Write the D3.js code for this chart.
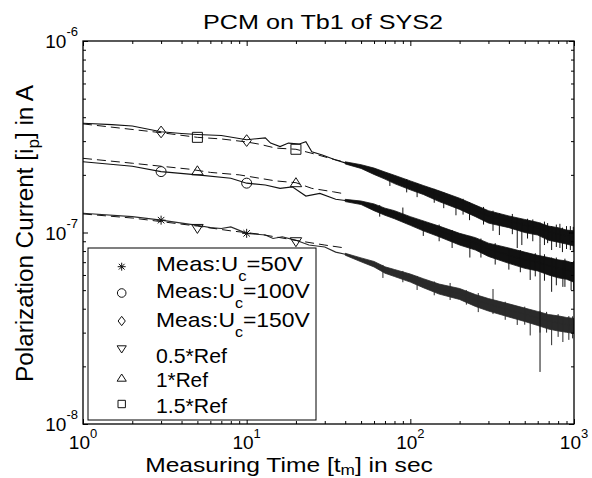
<!DOCTYPE html>
<html lang="en">
<head>
<meta charset="utf-8">
<title>PCM on Tb1 of SYS2</title>
<script src="https://d3js.org/d3.v7.min.js"></script>
<style>
  body { margin: 0; background: #fff; }
  text { font-family: "Liberation Sans", Arial, Helvetica, sans-serif; fill: #000; }
</style>
</head>
<body>
<div id="chart"></div>
<script>
// currents are written in units of 1e-7 A, times in sec
var UNIT = 1e-7;

// measured curves, quiet start
var t50  = [1, 2, 3, 5, 6, 7, 8, 10, 13, 14.5, 16.5, 20, 24, 30, 35];
var i50  = [1.26, 1.21, 1.16, 1.09, 1.06, 1.05, 1.07, 0.99, 0.97, 0.93, 0.95, 0.91, 0.86, 0.84, 0.79];
var t100 = [1, 2, 3, 5, 8, 10, 13, 16, 19, 23, 28, 35];
var i100 = [2.34, 2.22, 2.08, 2.00, 1.92, 1.81, 1.77, 1.70, 1.73, 1.55, 1.60, 1.49];
var t150 = [1, 1.5, 2, 3, 4, 5, 7, 10, 13, 14, 16, 18, 21, 23, 25, 29, 35];
var i150 = [3.72, 3.66, 3.60, 3.36, 3.29, 3.25, 3.21, 3.05, 3.12, 2.93, 2.81, 2.93, 2.90, 2.98, 2.64, 2.54, 2.39];

// noisy tail: centre and band edges on a shared time grid
var tTail  = [40, 50, 60, 70, 80, 100, 120, 150, 200, 250, 300, 400, 500, 600, 700, 800, 900, 1000];
var mid50  = [0.77, 0.72, 0.685, 0.64, 0.62, 0.58, 0.547, 0.51, 0.48, 0.444, 0.423, 0.394, 0.375, 0.358, 0.345, 0.337, 0.331, 0.327];
var hi50   = [0.779, 0.737, 0.706, 0.662, 0.641, 0.607, 0.574, 0.538, 0.510, 0.474, 0.452, 0.424, 0.403, 0.387, 0.373, 0.367, 0.360, 0.356];
var lo50   = [0.761, 0.703, 0.661, 0.613, 0.589, 0.551, 0.515, 0.477, 0.447, 0.411, 0.389, 0.362, 0.343, 0.327, 0.313, 0.306, 0.301, 0.297];
var mid100 = [1.47, 1.43, 1.36, 1.29, 1.25, 1.16, 1.09, 1.02, 0.93, 0.88, 0.82, 0.76, 0.72, 0.70, 0.67, 0.65, 0.64, 0.62];
var hi100  = [1.49, 1.46, 1.41, 1.34, 1.30, 1.21, 1.15, 1.08, 0.99, 0.94, 0.88, 0.83, 0.79, 0.76, 0.74, 0.72, 0.71, 0.69];
var lo100  = [1.45, 1.40, 1.30, 1.23, 1.18, 1.09, 1.02, 0.95, 0.86, 0.81, 0.75, 0.69, 0.65, 0.63, 0.60, 0.58, 0.57, 0.55];
var mid150 = [2.31, 2.21, 2.09, 2.00, 1.90, 1.77, 1.68, 1.56, 1.43, 1.31, 1.22, 1.15, 1.09, 1.06, 1.01, 0.98, 0.96, 0.94];
var hi150  = [2.34, 2.26, 2.17, 2.07, 1.99, 1.86, 1.76, 1.65, 1.51, 1.39, 1.30, 1.22, 1.17, 1.13, 1.08, 1.06, 1.03, 1.02];
var lo150  = [2.28, 2.16, 2.01, 1.90, 1.80, 1.67, 1.58, 1.45, 1.32, 1.21, 1.12, 1.06, 1.00, 0.97, 0.91, 0.89, 0.87, 0.85];

// spikes out of the band: [t, from, to]
var spikes50  = [[68, 0.677, 0.579], [90, 0.63, 0.55], [110, 0.593, 0.501], [140, 0.555, 0.47], [175, 0.545, 0.444],
                 [220, 0.50, 0.42], [260, 0.483, 0.384], [320, 0.507, 0.375], [380, 0.435, 0.35], [450, 0.413, 0.329],
                 [500, 0.41, 0.33], [540, 0.384, 0.29], [620, 0.39, 0.30], [680, 0.385, 0.30], [730, 0.371, 0.258],
                 [800, 0.375, 0.285], [855, 0.358, 0.268], [930, 0.366, 0.275], [980, 0.365, 0.28]];
var spikes100 = [[65, 1.39, 1.21], [90, 1.35, 1.15], [120, 1.15, 0.96], [150, 1.10, 0.90], [180, 1.03, 0.83],
                 [231, 0.96, 0.74], [270, 0.93, 0.74], [330, 0.88, 0.68], [400, 0.83, 0.64], [470, 0.81, 0.62],
                 [540, 0.77, 0.565], [580, 0.78, 0.59], [620, 0.88, 0.187], [660, 0.77, 0.56], [730, 0.74, 0.49],
                 [780, 0.74, 0.53], [855, 0.70, 0.52], [880, 0.73, 0.52], [960, 0.70, 0.50], [995, 0.71, 0.50]];
var spikes150 = [[75, 2.02, 1.75], [95, 1.90, 1.62], [110, 1.81, 1.53], [140, 1.69, 1.43], [160, 1.62, 1.34],
                 [190, 1.44, 1.23], [210, 1.50, 1.24], [230, 1.44, 1.16], [280, 1.36, 1.10], [320, 1.30, 1.02],
                 [350, 1.26, 0.97], [420, 1.25, 0.98], [450, 1.19, 0.83], [480, 1.13, 0.86], [520, 1.18, 0.93],
                 [560, 1.17, 0.90], [620, 1.13, 0.88], [660, 1.14, 0.86], [690, 1.12, 0.88], [730, 1.08, 0.81],
                 [780, 1.10, 0.84], [820, 1.11, 0.83], [850, 1.06, 0.79], [900, 1.08, 0.82], [950, 1.08, 0.81], [990, 1.07, 0.80]];

// reference curves (dashed)
var tRef05 = [1, 2, 3, 5, 8, 12, 20, 30, 40];
var iRef05 = [1.25, 1.19, 1.14, 1.08, 1.02, 0.98, 0.91, 0.86, 0.83];
var tRef10 = [1, 2, 4.5, 6, 9, 12, 15, 20, 25, 34, 40];
var iRef10 = [2.44, 2.30, 2.14, 2.06, 2.00, 1.92, 1.86, 1.82, 1.70, 1.63, 1.59];
var tRef15 = [1, 3, 5, 7, 10, 12, 15, 20, 26, 34, 40];
var iRef15 = [3.69, 3.32, 3.14, 3.08, 2.97, 2.89, 2.76, 2.72, 2.57, 2.41, 2.33];

// marker positions
var tMeasMark = [3, 10];
var mark50  = [1.16, 0.99];
var mark100 = [2.08, 1.81];
var mark150 = [3.35, 3.02];
var tRefMark = [5, 20];
var markRef05 = [1.05, 0.895];
var markRef10 = [2.10, 1.82];
var markRef15 = [3.14, 2.72];

var legendLabels = ["Meas:U_c=50V", "Meas:U_c=100V", "Meas:U_c=150V", "0.5*Ref", "1*Ref", "1.5*Ref"];
var xTickExp = ["0", "1", "2", "3"];
var yTickExp = ["-8", "-7", "-6"];

// ---------------------------------------------------------------
var margin = {top: 41, right: 18, bottom: 54, left: 83},
    width = 592 - margin.left - margin.right,
    height = 478 - margin.top - margin.bottom;

var svg = d3.select("#chart").append("svg")
    .attr("width", 592)
    .attr("height", 478);

var g = svg.append("g")
    .attr("transform", "translate(" + margin.left + "," + margin.top + ")");

var x = d3.scaleLog().domain([1, 1000]).range([0, width]);
var y = d3.scaleLog().domain([1e-8, 1e-6]).range([height, 0]);

svg.append("defs").append("clipPath").attr("id", "clip")
  .append("rect").attr("width", width).attr("height", height);
var plot = g.append("g").attr("clip-path", "url(#clip)");

function zip(ts, vs) { return ts.map(function(t, k) { return [t, vs[k]]; }); }

var line = d3.line().x(function(d) { return x(d[0]); }).y(function(d) { return y(d[1] * UNIT); });
var band = d3.area()
    .x(function(d) { return x(d[0]); })
    .y0(function(d) { return y(d[1] * UNIT); })
    .y1(function(d) { return y(d[2] * UNIT); });

function markerPath(type, r) {
  switch (type) {
    case "star":
      var q = r * 0.72;
      return "M" + (-r) + ",0H" + r + "M0," + (-r) + "V" + r +
             "M" + (-q) + "," + (-q) + "L" + q + "," + q + "M" + (-q) + "," + q + "L" + q + "," + (-q);
    case "circle":
      return "M" + r + ",0A" + r + "," + r + " 0 1,1 " + (-r) + ",0A" + r + "," + r + " 0 1,1 " + r + ",0Z";
    case "diamond":
      return "M0," + (-r * 1.3) + "L" + r + ",0L0," + (r * 1.3) + "L" + (-r) + ",0Z";
    case "down":
      return "M0," + r + "L" + (r * 1.15) + "," + (-r * 0.8) + "L" + (-r * 1.15) + "," + (-r * 0.8) + "Z";
    case "up":
      return "M0," + (-r) + "L" + (r * 1.15) + "," + (r * 0.8) + "L" + (-r * 1.15) + "," + (r * 0.8) + "Z";
    case "square":
      return "M" + (-r) + "," + (-r) + "H" + r + "V" + r + "H" + (-r) + "Z";
  }
}

var measured = [
  {t: t50,  i: i50,  mid: mid50,  hi: hi50,  lo: lo50,  spikes: spikes50,  color: "#2a2a2a", mark: "star",    mv: mark50},
  {t: t100, i: i100, mid: mid100, hi: hi100, lo: lo100, spikes: spikes100, color: "#111", mark: "circle",  mv: mark100},
  {t: t150, i: i150, mid: mid150, hi: hi150, lo: lo150, spikes: spikes150, color: "#111", mark: "diamond", mv: mark150}
];
var refs = [
  {t: tRef05, i: iRef05, mark: "down",   mv: markRef05},
  {t: tRef10, i: iRef10, mark: "up",     mv: markRef10},
  {t: tRef15, i: iRef15, mark: "square", mv: markRef15}
];

// noisy bands
measured.forEach(function(s) {
  plot.append("path")
    .datum(s.mid.map(function(m, k) { return [tTail[k], s.lo[k], s.hi[k]]; }))
    .attr("d", band)
    .attr("fill", s.color)
    .attr("stroke", s.color)
    .attr("stroke-width", 0.8);
});

// measured lines and spikes
measured.forEach(function(s) {
  plot.append("path")
    .datum(zip(s.t, s.i).concat(zip(tTail, s.mid)))
    .attr("d", line)
    .attr("fill", "none")
    .attr("stroke", s.color)
    .attr("stroke-width", 1.1);

  plot.selectAll(null)
    .data(s.spikes)
    .enter().append("line")
      .attr("x1", function(d) { return x(d[0]); })
      .attr("x2", function(d) { return x(d[0]); })
      .attr("y1", function(d) { return y(d[1] * UNIT); })
      .attr("y2", function(d) { return y(d[2] * UNIT); })
      .attr("stroke", s.color)
      .attr("stroke-width", 1);
});

// reference lines
refs.forEach(function(s) {
  plot.append("path")
    .datum(zip(s.t, s.i))
    .attr("d", line)
    .attr("fill", "none")
    .attr("stroke", "#111")
    .attr("stroke-width", 1)
    .attr("stroke-dasharray", "9,5");
});

// markers
var markSize = {star: 4.5, circle: 5, diamond: 4.5, down: 5, up: 5, square: 5};
measured.forEach(function(s) {
  plot.selectAll(null).data(zip(tMeasMark, s.mv)).enter().append("path")
    .attr("transform", function(d) { return "translate(" + x(d[0]) + "," + y(d[1] * UNIT) + ")"; })
    .attr("d", markerPath(s.mark, markSize[s.mark]))
    .attr("fill", "none").attr("stroke", "#111").attr("stroke-width", 1);
});
refs.forEach(function(s) {
  plot.selectAll(null).data(zip(tRefMark, s.mv)).enter().append("path")
    .attr("transform", function(d) { return "translate(" + x(d[0]) + "," + y(d[1] * UNIT) + ")"; })
    .attr("d", markerPath(s.mark, markSize[s.mark]))
    .attr("fill", "none").attr("stroke", "#111").attr("stroke-width", 1);
});

// ticks, all pointing inward
var isDecade = function(v) { return Math.abs(Math.log10(v) - Math.round(Math.log10(v))) < 1e-9; };
var xMajor = x.ticks().filter(isDecade), xMinor = x.ticks().filter(function(v) { return !isDecade(v); });
var yMajor = y.ticks().filter(isDecade), yMinor = y.ticks().filter(function(v) { return !isDecade(v); });

function tickSet(axis, values, size, transform) {
  g.append("g")
    .attr("transform", transform)
    .call(axis.tickValues(values).tickSize(size).tickFormat(""))
    .call(function(s) { s.select(".domain").remove(); s.selectAll("line").attr("stroke-width", 1); });
}
tickSet(d3.axisBottom(x), xMinor, -3, "translate(0," + height + ")");
tickSet(d3.axisBottom(x), xMajor, -5, "translate(0," + height + ")");
tickSet(d3.axisTop(x), xMinor, -3, "translate(0,0)");
tickSet(d3.axisTop(x), xMajor, -5, "translate(0,0)");
tickSet(d3.axisLeft(y), yMinor, -3, "translate(0,0)");
tickSet(d3.axisLeft(y), yMajor, -5, "translate(0,0)");
tickSet(d3.axisRight(y), yMinor, -3, "translate(" + width + ",0)");
tickSet(d3.axisRight(y), yMajor, -5, "translate(" + width + ",0)");

g.append("rect")
  .attr("width", width).attr("height", height)
  .attr("fill", "none").attr("stroke", "#000").attr("stroke-width", 1.3);

// text with sub/superscripts: segs = [[text, shift, size], ...]
function rich(parent, transform, segs, anchor, targetWidth) {
  var grp = parent.append("g").attr("transform", transform);
  var t = grp.append("text").attr("text-anchor", anchor);
  var prev = 0;
  segs.forEach(function(s) {
    t.append("tspan").attr("dy", s[1] - prev).attr("font-size", s[2]).text(s[0]);
    prev = s[1];
  });
  if (targetWidth) {
    var w = t.node().getComputedTextLength();
    t.attr("transform", "scale(" + (targetWidth / w) + ",1)");
  }
  return grp;
}

// tick labels
xMajor.forEach(function(v, k) {
  rich(g, "translate(" + x(v) + "," + (height + 24.5) + ")", [["10", 0, 19], [xTickExp[k], -11, 13]], "middle");
});
yMajor.forEach(function(v, k) {
  rich(g, "translate(-5," + (y(v) + 7) + ")", [["10", 0, 19], [yTickExp[k], -12, 13]], "end");
});

// titles
rich(svg, "translate(323,29)", [["PCM on Tb1 of SYS2", 0, 21]], "middle", 240);
rich(svg, "translate(289,471.5)", [["Measuring Time [t", 0, 20], ["m", 3, 14], ["] in sec", 0, 20]], "middle", 288);
rich(svg, "translate(33,233.5) rotate(-90)", [["Polarization Current [i", 0, 24], ["p", 6, 17], ["] in A", 0, 24]], "middle", 297);

// legend
var legend = svg.append("g");
legend.append("rect")
  .attr("x", 88).attr("y", 248).attr("width", 228).attr("height", 172)
  .attr("fill", "#fff").attr("stroke", "#000").attr("stroke-width", 1);

var legMarks = ["star", "circle", "diamond", "down", "up", "square"];
var legMarkSize = {star: 4, circle: 4.3, diamond: 3.6, down: 4, up: 4, square: 3.7};
var rowBase = [270.7, 298.3, 326.7, 363.3, 386.7, 413.3];
var rowMark = [266.7, 293, 321, 349, 378, 404];
var rowWidth = [147, 154, 154, 71, 52, 71];

legendLabels.forEach(function(lbl, k) {
  legend.append("path")
    .attr("transform", "translate(121.7," + rowMark[k] + ")")
    .attr("d", markerPath(legMarks[k], legMarkSize[legMarks[k]]))
    .attr("fill", "none").attr("stroke", "#111").attr("stroke-width", 1);
  var parts = lbl.split(/_(\w)/);
  var segs = parts.map(function(p, j) { return j % 2 ? [p, 10, 14] : [p, 0, 20]; });
  rich(legend, "translate(156," + rowBase[k] + ")", segs, "start", rowWidth[k]);
});
</script>
</body>
</html>
